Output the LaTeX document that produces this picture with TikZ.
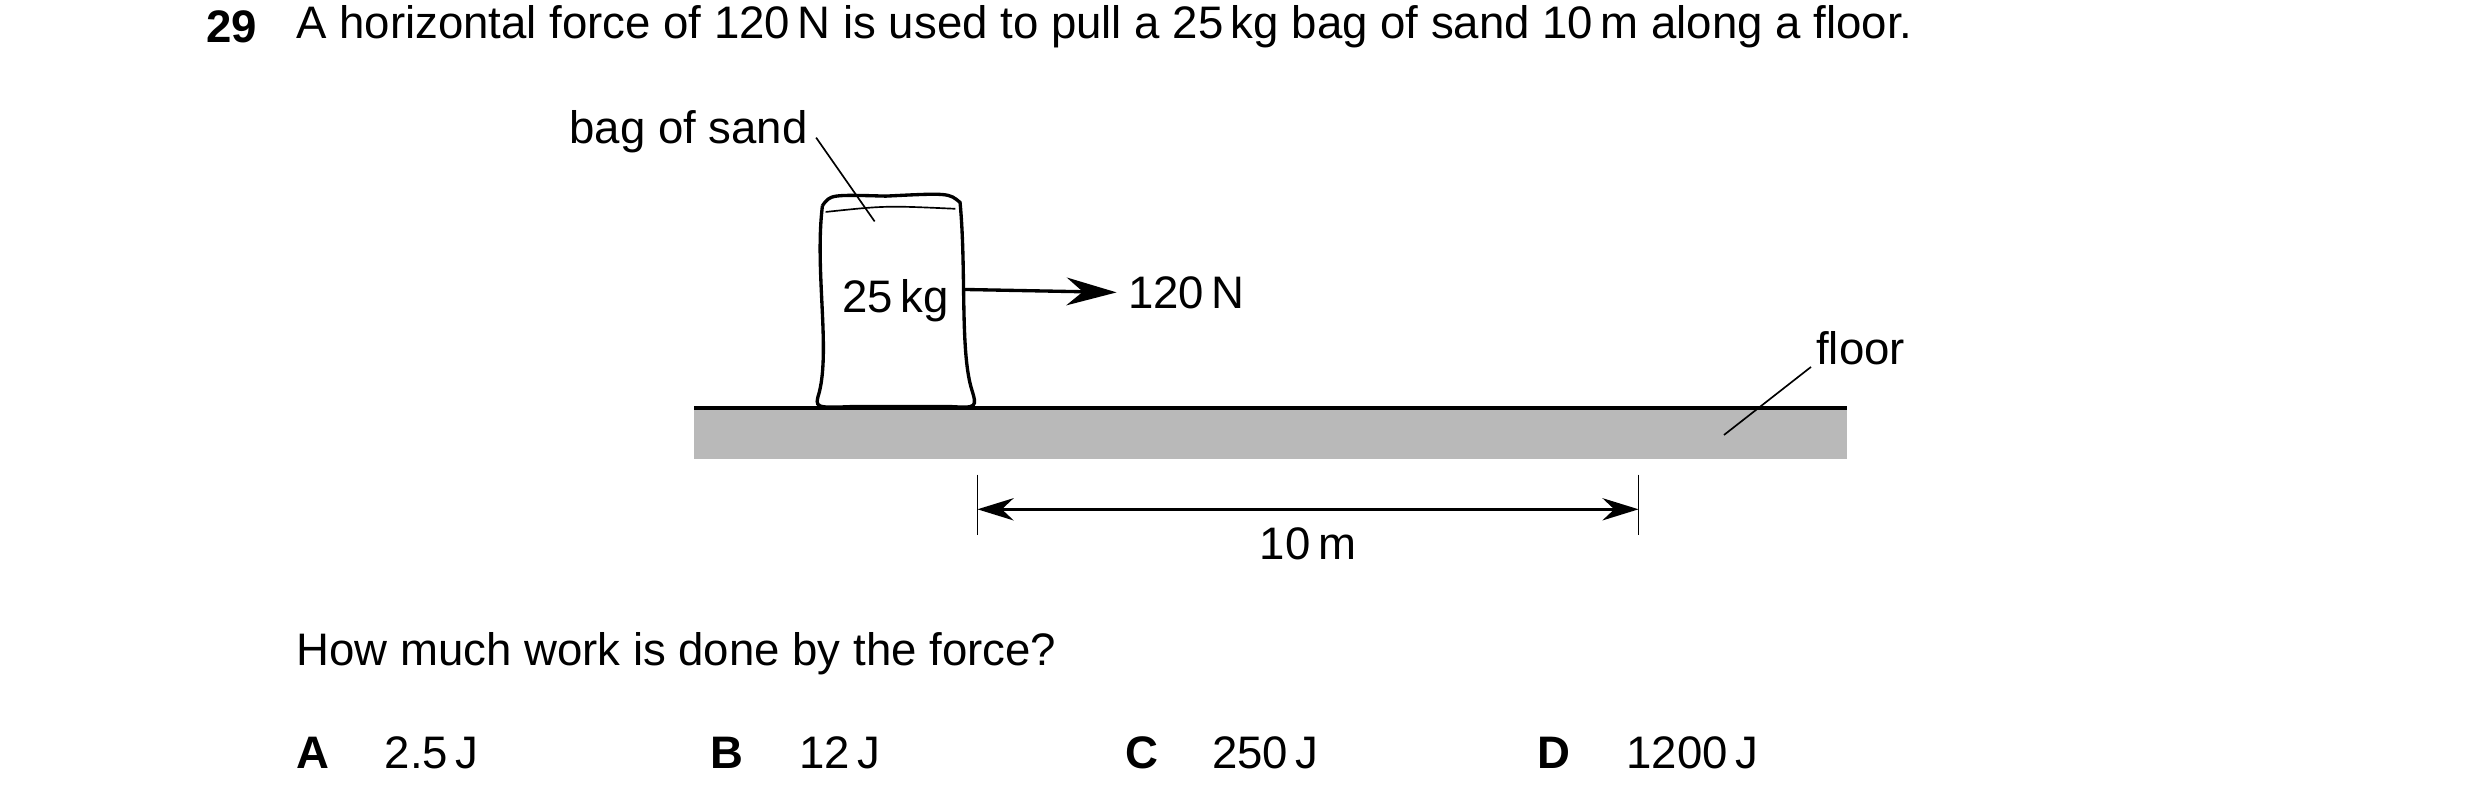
\documentclass[tikz,border=0pt]{standalone}
\usepackage{fontspec}
\setmainfont{Liberation Sans}
\usetikzlibrary{arrows.meta}
\begin{document}
\begin{tikzpicture}[x=0.02cm,y=-0.02cm,
    txt/.style={font=\fontsize{16.4}{19}\selectfont,inner sep=0pt},
    lead/.style={line width=0.6pt},
    dimarrow/.style={line width=1pt,{Stealth[length=13pt,width=8pt]}-{Stealth[length=13pt,width=8pt]}}]
    \useasboundingbox (0,0) rectangle (1568,511);
    % question
    \node[txt,anchor=west,font=\fontsize{16.4}{19}\selectfont\bfseries] (num) at (130,17) {29};
    \node[txt,anchor=west] (q) at (187,17) {A horizontal force of 120\,N is used to pull a 25\,kg bag of sand 10\,m along a floor.};
    % floor
    \fill[gray!55] (439,258) rectangle (1168,290);
    \draw[line width=1.2pt] (439,258) -- (1168,258);
    % bag
    \draw[line width=1.2pt,fill=white] (520,130) .. controls (515,170) and (525,220) .. (518,248)
        .. controls (515,258) .. (540,257) -- (600,257) .. controls (618,258) .. (614,245)
        .. controls (607,220) and (611,170) .. (607,128) .. controls (600,122) .. (560,124)
        .. controls (525,123) .. (520,130);
    \draw[lead] (522,134) .. controls (560,130) .. (604,132);
    \node[txt] (mass) at (566,190) {25\,kg};
    % force
    \coordinate (push) at (609,183);
    \node[txt,anchor=west] (force) at (713,185) {120\,N};
    \draw[line width=1.2pt,-{Stealth[length=18pt,width=10pt]},shorten >=4pt] (push) -- (force.west);
    % labels
    \node[txt,anchor=east] (bag) at (511,83) {bag of sand};
    \coordinate (bagpt) at (553,140);
    \draw[lead] (bag.east) ++(5,4) -- (bagpt);
    \node[txt,anchor=west] (floor) at (1148,220) {floor};
    \coordinate (floorpt) at (1090,275);
    \draw[lead] (1145,232) -- (floorpt);
    % distance
    \coordinate (d1) at (618,322);
    \coordinate (d2) at (1036,322);
    \draw[lead] (618,300) -- (618,338);
    \draw[lead] (1036,300) -- (1036,338);
    \draw[dimarrow] (d1) -- (d2);
    \node[txt] (dist) at (827,344) {10\,m};
    % answers
    \node[txt,anchor=west] (ask) at (187,413) {How much work is done by the force?};
    \foreach \opt/\lx/\val/\vx in {A/187/{2.5\,J}/243, B/449/{12\,J}/505, C/711/{250\,J}/766, D/972/{1200\,J}/1028}{
        \node[txt,anchor=west,font=\fontsize{16.4}{19}\selectfont\bfseries] (opt\opt) at (\lx,476) {\opt};
        \node[txt,anchor=west] (val\opt) at (\vx,476) {\val};
    }
\end{tikzpicture}
\end{document}
